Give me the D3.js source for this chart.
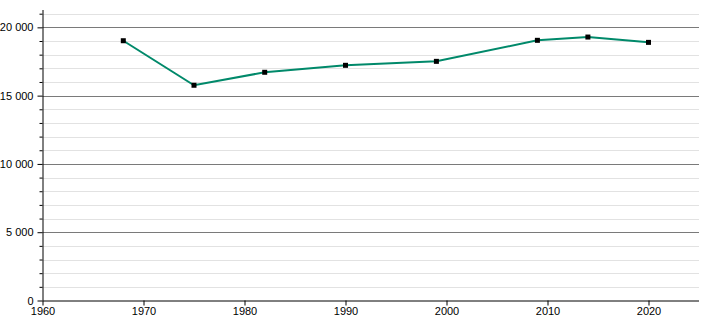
<!DOCTYPE html>
<html>
<head>
<meta charset="utf-8">
<script src="https://cdn.jsdelivr.net/npm/d3@7"></script>
<style>
  body { margin: 0; background: #fff; }
  svg text { font-family: "Liberation Sans", Arial, sans-serif; font-size: 11px; fill: #000; }
</style>
</head>
<body>
<svg id="mainsvg" width="710" height="320"></svg>
<script>
// data
const years = [1968, 1975, 1982, 1990, 1999, 2009, 2014, 2020];
const population = [19020, 15760, 16710, 17220, 17510, 19050, 19290, 18900];
const xTicks = [1960, 1970, 1980, 1990, 2000, 2010, 2020];
const yTicks = [0, 5000, 10000, 15000, 20000];

const svg = d3.select('#mainsvg');
const margin = {top: 10, right: 11, bottom: 19.5, left: 42.5};
const width = +svg.attr('width') - margin.left - margin.right;
const height = +svg.attr('height') - margin.top - margin.bottom;
const g = svg.append('g').attr('transform', `translate(${margin.left},${margin.top})`);

const xScale = d3.scaleLinear().domain([1960, 2025]).range([0, width]);
const yScale = d3.scaleLinear().domain([0, 21270]).range([height, 0]);

const fmt = v => d3.format(',')(v).replace(/,/g, '\u2009'.replace('\u2009', ' '));

// minor grid lines every 1000
const minor = d3.range(1000, 21001, 1000).filter(v => v % 5000 !== 0);
g.append('g').selectAll('line').data(minor).enter().append('line')
  .attr('x1', 0).attr('x2', width)
  .attr('y1', d => Math.round(yScale(d)) + 0.5).attr('y2', d => Math.round(yScale(d)) + 0.5)
  .attr('stroke', '#e2e2e2').attr('stroke-width', 1);

// major grid lines
g.append('g').selectAll('line').data(yTicks.filter(d => d > 0)).enter().append('line')
  .attr('x1', 0).attr('x2', width)
  .attr('y1', d => Math.round(yScale(d)) + 0.5).attr('y2', d => Math.round(yScale(d)) + 0.5)
  .attr('stroke', '#7a7a7a').attr('stroke-width', 1);

// y axis
const yAxis = g.append('g')
  .call(d3.axisLeft(yScale).tickValues(yTicks).tickSize(5).tickPadding(4).tickFormat(fmt));
yAxis.selectAll('.tick line').attr('stroke', '#000');
g.append('g')
  .call(d3.axisLeft(yScale).tickValues(minor).tickSize(3).tickFormat(''))
  .call(a => a.select('.domain').remove());
yAxis.select('.domain').attr('stroke', '#000').attr('d', `M0.5,0V${height}`);

// x axis
const xAxis = g.append('g')
  .attr('transform', `translate(0,${height})`)
  .call(d3.axisBottom(xScale).tickValues(xTicks).tickSize(5).tickPadding(2).tickFormat(d3.format('d')));
xAxis.select('.domain').attr('d', `M0,0.5H${width}`).attr('stroke', '#000');

g.selectAll('.tick text').style('font-family', '"Liberation Sans", Arial, sans-serif').style('font-size', '11px');

// line
const pts = years.map((y, i) => ({year: y, value: population[i]}));
const line = d3.line().x(d => xScale(d.year)).y(d => yScale(d.value));
g.append('path').datum(pts)
  .attr('d', line)
  .attr('fill', 'none')
  .attr('stroke', '#00896a')
  .attr('stroke-width', 2);

// markers
g.selectAll('.pt').data(pts).enter().append('rect')
  .attr('class', 'pt')
  .attr('x', d => xScale(d.year) - 2.5)
  .attr('y', d => yScale(d.value) - 2.5)
  .attr('width', 5).attr('height', 5)
  .attr('fill', '#000');
</script>
</body>
</html>
